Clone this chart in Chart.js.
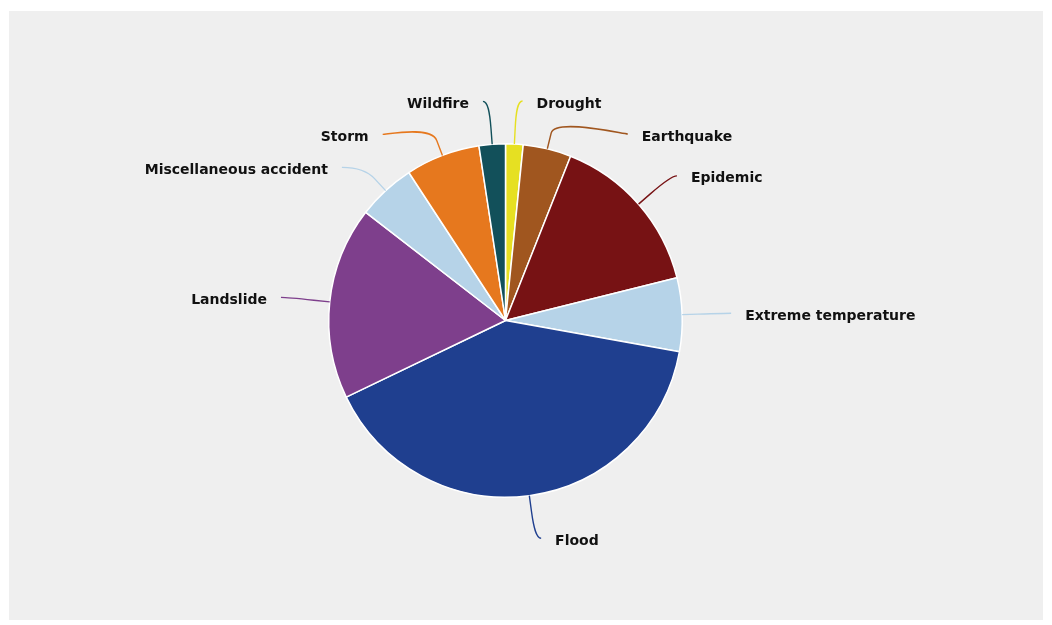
<!DOCTYPE html>
<html>
<head>
<meta charset="utf-8">
<script src="https://cdn.jsdelivr.net/npm/chart.js@4.4.1/dist/chart.umd.min.js"></script>
<style>
  html, body { margin: 0; padding: 0; background: #ffffff; }
  #wrap { position: absolute; left: 9px; top: 11px; width: 1034px; height: 609px; background: #efefef; }
</style>
</head>
<body>
<div id="wrap"><canvas id="pie_chart"></canvas></div>
<script>
// データ
var categories = ['Drought', 'Earthquake', 'Epidemic', 'Extreme temperature', 'Flood',
                  'Landslide', 'Miscellaneous accident', 'Storm', 'Wildfire'];
var shares = [1.6, 4.4, 15.1, 6.7, 40.0, 17.6, 5.3, 6.8, 2.4];
var sliceColors = ['#e6e022', '#a0561f', '#771214', '#b6d3e8', '#1f3f8f',
                   '#7e3f8c', '#b6d3e8', '#e6781e', '#12505a'];

// Highcharts風のラベル＋コネクタ
var pieLabels = {
    id: 'pieLabels',
    afterDatasetsDraw: function (chart) {
        var ctx = chart.ctx;
        var arcs = chart.getDatasetMeta(0).data;
        var labelDist = 43, breakDist = 16, gap = 33, pad = 6;
        var items = [];
        arcs.forEach(function (arc, i) {
            var p = arc.getProps(['x', 'y', 'startAngle', 'endAngle', 'outerRadius'], true);
            var mid = (p.startAngle + p.endAngle) / 2;
            var R = p.outerRadius + labelDist;
            items.push({
                i: i, cx: p.x, cy: p.y, r: p.outerRadius, R: R, mid: mid,
                right: Math.cos(mid) >= 0,
                y: p.y + R * Math.sin(mid)
            });
        });
        // 左右それぞれで重ならないように上から押し下げる
        [true, false].forEach(function (side) {
            var list = items.filter(function (it) { return it.right === side; })
                            .sort(function (a, b) { return a.y - b.y; });
            for (var k = 1; k < list.length; k++) {
                if (list[k].y < list[k - 1].y + gap) list[k].y = list[k - 1].y + gap;
            }
        });
        ctx.save();
        ctx.font = 'bold 14px "DejaVu Sans", sans-serif';
        ctx.textBaseline = 'middle';
        items.forEach(function (it) {
            var dy = it.y - it.cy;
            var dx = Math.abs(dy) < it.R ? Math.sqrt(it.R * it.R - dy * dy) : 0;
            var lx = it.cx + (it.right ? dx + pad : -dx - pad);
            var touch = { x: it.cx + it.r * Math.cos(it.mid), y: it.cy + it.r * Math.sin(it.mid) };
            var brk = { x: it.cx + (it.r + breakDist) * Math.cos(it.mid), y: it.cy + (it.r + breakDist) * Math.sin(it.mid) };
            ctx.beginPath();
            ctx.moveTo(lx, it.y);
            ctx.bezierCurveTo(lx + (it.right ? -5 : 5), it.y,
                              2 * brk.x - touch.x, 2 * brk.y - touch.y,
                              brk.x, brk.y);
            ctx.lineTo(touch.x, touch.y);
            ctx.strokeStyle = sliceColors[it.i];
            ctx.lineWidth = 1.4;
            ctx.stroke();
            ctx.fillStyle = '#111111';
            ctx.textAlign = it.right ? 'left' : 'right';
            ctx.fillText(categories[it.i], lx + (it.right ? 14 : -14), it.y + 3);
        });
        ctx.restore();
    }
};

var ctx = document.getElementById('pie_chart').getContext('2d');
var chart = new Chart(ctx, {
    type: 'pie',
    data: {
        labels: categories,
        datasets: [{
            data: shares,
            backgroundColor: sliceColors,
            borderColor: '#ffffff',
            borderWidth: 1.5
        }]
    },
    options: {
        responsive: true,
        maintainAspectRatio: false,
        animation: false,
        layout: { padding: { top: 132, bottom: 122, left: 319, right: 360 } },
        plugins: {
            legend: { display: false },
            tooltip: { enabled: false }
        }
    },
    plugins: [pieLabels]
});
</script>
</body>
</html>
